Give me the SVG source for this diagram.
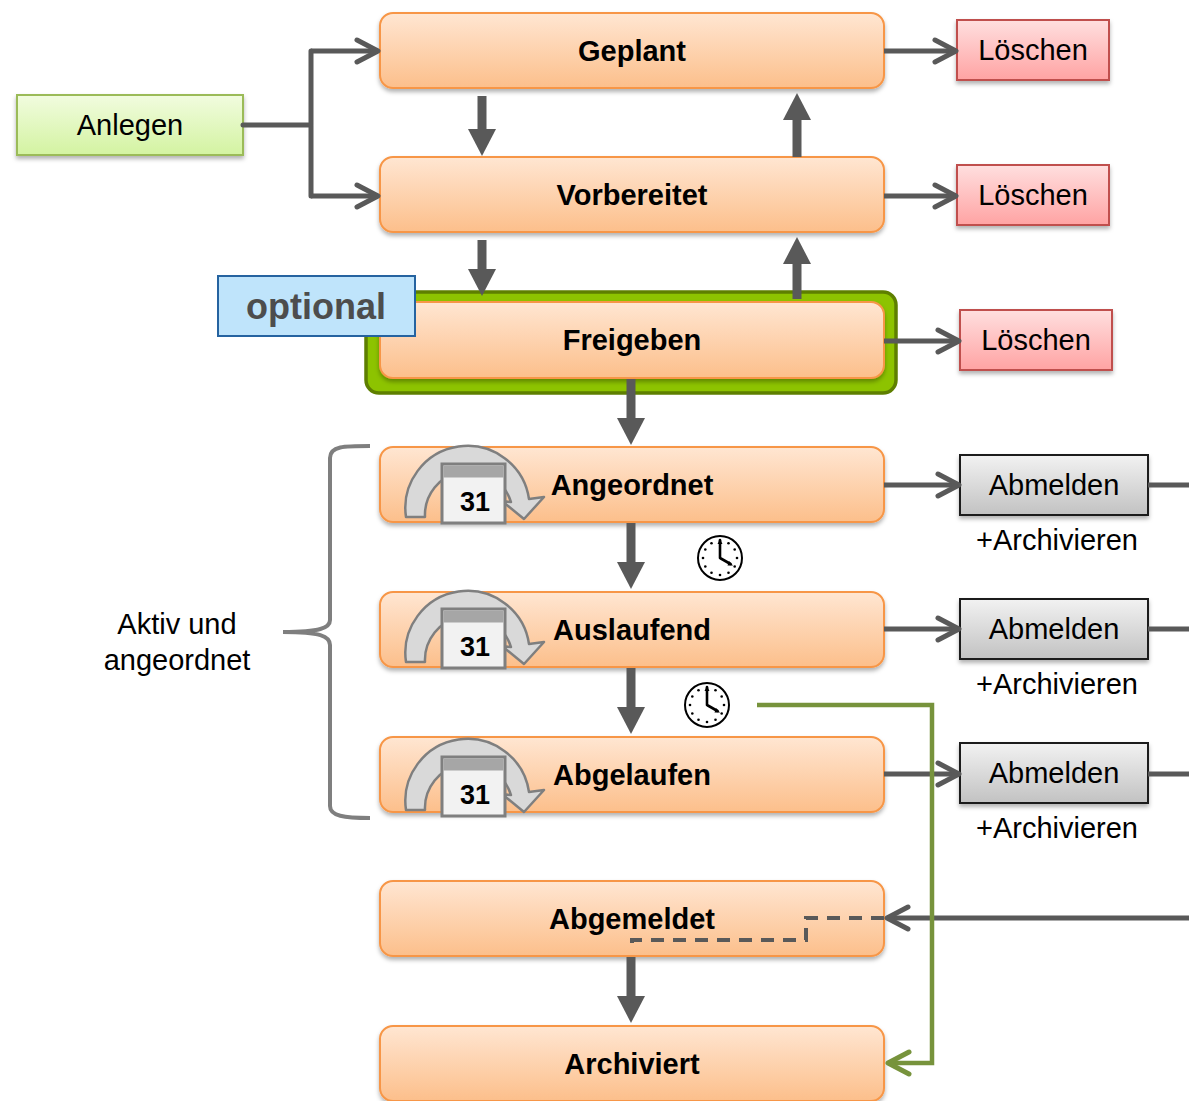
<svg xmlns="http://www.w3.org/2000/svg" xmlns:xlink="http://www.w3.org/1999/xlink" width="1189" height="1101" viewBox="0 0 1189 1101">
<defs>
<linearGradient id="gOr" x1="0" y1="0" x2="0" y2="1"><stop offset="0" stop-color="#ffe6d2"/><stop offset="1" stop-color="#fcbf8b"/></linearGradient>
<linearGradient id="gGr" x1="0" y1="0" x2="0" y2="1"><stop offset="0" stop-color="#f1fcdf"/><stop offset="1" stop-color="#d3f3a1"/></linearGradient>
<linearGradient id="gPk" x1="0" y1="0" x2="0" y2="1"><stop offset="0" stop-color="#ffdfdf"/><stop offset="1" stop-color="#ffa3a3"/></linearGradient>
<linearGradient id="gGy" x1="0" y1="0" x2="0" y2="1"><stop offset="0" stop-color="#f2f2f2"/><stop offset="1" stop-color="#c2c2c2"/></linearGradient>
<filter id="sh" x="-10%" y="-20%" width="120%" height="160%"><feDropShadow dx="0" dy="3" stdDeviation="2" flood-color="#000" flood-opacity="0.3"/></filter>
<marker id="tri" markerUnits="userSpaceOnUse" viewBox="0 0 28 28" markerWidth="28" markerHeight="28" refX="1" refY="14" orient="auto"><path d="M0,0 L27,14 L0,28 Z" fill="#595959"/></marker>
<marker id="chev" markerUnits="userSpaceOnUse" viewBox="0 0 30 30" markerWidth="30" markerHeight="30" refX="26" refY="15" orient="auto"><path d="M5,4 L26,15 L5,26" fill="none" stroke="#595959" stroke-width="5" stroke-linecap="round" stroke-linejoin="round"/></marker>
<marker id="chevG" markerUnits="userSpaceOnUse" viewBox="0 0 30 30" markerWidth="30" markerHeight="30" refX="26" refY="15" orient="auto"><path d="M5,4 L26,15 L5,26" fill="none" stroke="#77933c" stroke-width="5" stroke-linecap="round" stroke-linejoin="round"/></marker>
<g id="cal">
<path d="M406,517 A62,62 0 0 1 529,499 L544,497 L524,519 L502,501 L511,502 A44,44 0 0 0 425,517 Z" fill="#d9d9d9" stroke="#7f7f7f" stroke-width="2.5" stroke-linejoin="round"/>
<rect x="442" y="464" width="63" height="59" fill="#f2f2f2" stroke="#7f7f7f" stroke-width="3"/>
<rect x="443.5" y="465.5" width="60" height="12" fill="#a6a6a6"/>
<text x="475" y="511" class="cal">31</text>
</g>
<g id="clock">
<circle cx="0" cy="0" r="22" fill="#fff" stroke="#000" stroke-width="2"/>
<g fill="#000">
<circle cx="0" cy="-17" r="1.3"/><circle cx="8.5" cy="-14.7" r="1.3"/><circle cx="14.7" cy="-8.5" r="1.3"/><circle cx="17" cy="0" r="1.3"/><circle cx="14.7" cy="8.5" r="1.3"/><circle cx="8.5" cy="14.7" r="1.3"/><circle cx="0" cy="17" r="1.3"/><circle cx="-8.5" cy="14.7" r="1.3"/><circle cx="-14.7" cy="8.5" r="1.3"/><circle cx="-17" cy="0" r="1.3"/><circle cx="-14.7" cy="-8.5" r="1.3"/><circle cx="-8.5" cy="-14.7" r="1.3"/>
</g>
<path d="M0,0 V-18 M0,0 L10.5,6" stroke="#000" stroke-width="2.6" stroke-linecap="round"/>
<path d="M-2.5,-14 L0,-19 L2.5,-14 Z M9,3 L13,7.5 L7.5,7.5 Z" fill="#000"/>
</g>
</defs>
<style>
.st{fill:url(#gOr);stroke:#f79646;stroke-width:2;filter:url(#sh)}
.lb{font-family:"Liberation Sans",Arial,sans-serif;font-size:29px;font-weight:bold;fill:#000;text-anchor:middle}
.tx{font-family:"Liberation Sans",Arial,sans-serif;font-size:29px;fill:#000;text-anchor:middle}
.cal{font-family:"Liberation Sans",Arial,sans-serif;font-size:27px;font-weight:bold;fill:#000;text-anchor:middle}
.del{fill:url(#gPk);stroke:#c0504d;stroke-width:2;filter:url(#sh)}
.abm{fill:url(#gGy);stroke:#1a1a1a;stroke-width:2;filter:url(#sh)}
.hv{stroke:#595959;stroke-width:9;fill:none;marker-end:url(#tri)}
.th{stroke:#595959;stroke-width:5;fill:none;marker-end:url(#chev)}
</style>
<rect width="1189" height="1101" fill="#fff"/>

<g id="brace">
<path d="M370,446 C344,446 330,446 330,458 V620 C330,628 320,632 283,632 C320,632 330,636 330,645 V806 C330,816 344,818 370,818" fill="none" stroke="#7f7f7f" stroke-width="4"/>
<text class="tx" x="177" y="634">Aktiv und</text>
<text class="tx" x="177" y="670">angeordnet</text>
</g>

<g id="anlegen"><rect x="17" y="95" width="226" height="60" fill="url(#gGr)" stroke="#9bbb59" stroke-width="2" filter="url(#sh)"/><text class="tx" x="130" y="135">Anlegen</text></g>

<g id="geplant"><rect class="st" x="380" y="13" width="504" height="75" rx="13"/><text class="lb" x="632" y="61">Geplant</text></g>
<g id="vorbereitet"><rect class="st" x="380" y="157" width="504" height="75" rx="13"/><text class="lb" x="632" y="205">Vorbereitet</text></g>
<g id="freigeben">
<rect x="366" y="292" width="530" height="101" rx="13" fill="#8dc300" stroke="#5e7f00" stroke-width="3.5"/>
<rect class="st" x="380" y="302" width="504" height="76" rx="13"/><text class="lb" x="632" y="350">Freigeben</text>
</g>
<g id="optional"><rect x="218" y="276" width="197" height="60" fill="#bfe4fb" stroke="#2563a0" stroke-width="2"/><text x="316" y="319" font-family="'Liberation Sans',Arial,sans-serif" font-size="36" font-weight="bold" fill="#4d4d4d" text-anchor="middle">optional</text></g>

<g id="angeordnet"><rect class="st" x="380" y="447" width="504" height="75" rx="13"/><use xlink:href="#cal" href="#cal"/><text class="lb" x="632" y="495">Angeordnet</text></g>
<g id="auslaufend"><rect class="st" x="380" y="592" width="504" height="75" rx="13"/><use xlink:href="#cal" href="#cal" transform="translate(0,145)"/><text class="lb" x="632" y="640">Auslaufend</text></g>
<g id="abgelaufen"><rect class="st" x="380" y="737" width="504" height="75" rx="13"/><use xlink:href="#cal" href="#cal" transform="translate(0,293)"/><text class="lb" x="632" y="785">Abgelaufen</text></g>
<g id="abgemeldet"><rect class="st" x="380" y="881" width="504" height="75" rx="13"/><text class="lb" x="632" y="929">Abgemeldet</text></g>
<g id="archiviert"><rect class="st" x="380" y="1026" width="504" height="75" rx="13"/><text class="lb" x="632" y="1074">Archiviert</text></g>

<g id="loeschen1"><rect class="del" x="957" y="20" width="152" height="60"/><text class="tx" x="1033" y="60">Löschen</text></g>
<g id="loeschen2"><rect class="del" x="957" y="165" width="152" height="60"/><text class="tx" x="1033" y="205">Löschen</text></g>
<g id="loeschen3"><rect class="del" x="960" y="310" width="152" height="60"/><text class="tx" x="1036" y="350">Löschen</text></g>

<g id="abmelden1"><rect class="abm" x="960" y="455" width="188" height="60"/><text class="tx" x="1054" y="495">Abmelden</text><text class="tx" x="1057" y="550">+Archivieren</text></g>
<g id="abmelden2"><rect class="abm" x="960" y="599" width="188" height="60"/><text class="tx" x="1054" y="639">Abmelden</text><text class="tx" x="1057" y="694">+Archivieren</text></g>
<g id="abmelden3"><rect class="abm" x="960" y="743" width="188" height="60"/><text class="tx" x="1054" y="783">Abmelden</text><text class="tx" x="1057" y="838">+Archivieren</text></g>

<g id="clocks">
<use xlink:href="#clock" href="#clock" transform="translate(720,558)"/>
<use xlink:href="#clock" href="#clock" transform="translate(707,705)"/>
</g>

<g id="connectors">
<path d="M243,125 H311 M311,51 V196" stroke="#595959" stroke-width="5" fill="none" stroke-linecap="round"/>
<path class="th" d="M311,51 H378"/>
<path class="th" d="M311,196 H378"/>
<path class="th" d="M884,51 H956"/>
<path class="th" d="M884,196 H956"/>
<path class="th" d="M884,341 H959"/>
<path class="th" d="M884,485 H959"/>
<path class="th" d="M884,629 H959"/>
<path class="th" d="M884,774 H959"/>
<path d="M1148,485 H1189 M1148,629 H1189 M1148,774 H1189" stroke="#595959" stroke-width="5" fill="none"/>
<path class="th" d="M1189,918 H887"/>
<path d="M884,918 H806 V940 H632 V946" fill="none" stroke="#595959" stroke-width="4" stroke-dasharray="13 9"/>
<path class="hv" d="M482,96 V130"/>
<path class="hv" d="M482,240 V270"/>
<path class="hv" d="M797,157 V119"/>
<path class="hv" d="M797,299 V263"/>
<path class="hv" d="M631,379 V419"/>
<path class="hv" d="M631,523 V563"/>
<path class="hv" d="M631,668 V708"/>
<path class="hv" d="M631,957 V997"/>
<path d="M757,705 H932 V1063 H888" fill="none" stroke="#77933c" stroke-width="4.5" marker-end="url(#chevG)"/>
</g>
</svg>
